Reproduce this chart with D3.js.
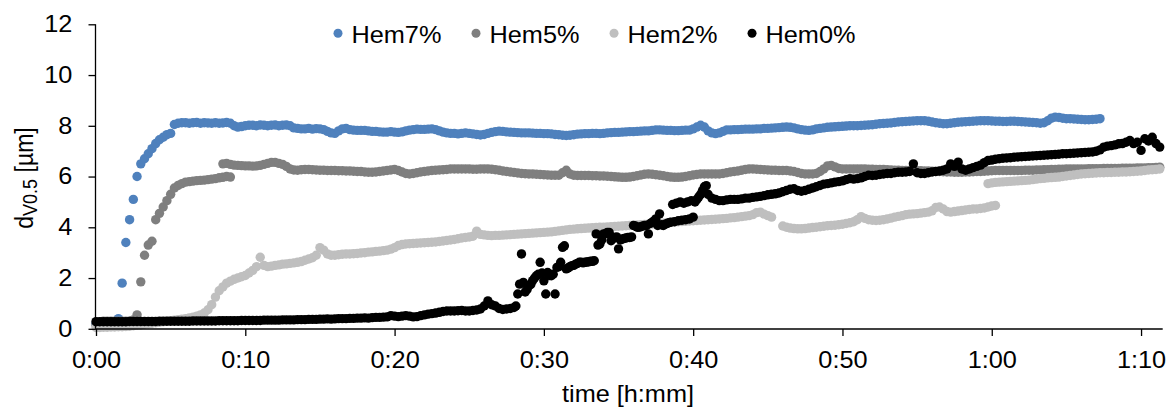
<!DOCTYPE html>
<html><head><meta charset="utf-8">
<script src="https://cdn.jsdelivr.net/npm/d3@7"></script>
<style>
body{margin:0;background:#fff}
svg{display:block}
text{font-family:"Liberation Sans",Arial,sans-serif;fill:#000}
</style>
</head><body><svg id="c" width="1171" height="413"></svg>
<script>
// ---- data (time in minutes, sampled every sampleStep minutes from each run start) ----
const seriesNames = ["Hem7%", "Hem5%", "Hem2%", "Hem0%"];
const seriesColors = ["#4F81BD", "#7F7F7F", "#BFBFBF", "#000000"];
const sampleStep = 0.25;
const yTicks = [0, 2, 4, 6, 8, 10, 12];
const xTicks = [0, 10, 20, 30, 40, 50, 60, 70];
const xMax = 71.45;

const hem7Starts = [0];
const hem7Values = [[
0.2,0.2,0.2,0.2, 0.2,0.2,0.4,1.8, 3.4,4.3,5.1,6.0, 6.5,6.7,6.9,7.1, 7.3,7.45,7.55,7.65,
7.7,8.05,8.1,8.12, 8.12,8.1,8.12,8.13, 8.1,8.12,8.11,8.1, 8.12,8.1,8.11,8.13, 8.1,8.0,7.95,7.97,
8.0,8.02,8.02,8.0, 8.03,8.02,8.0,8.02, 8.03,8.0,8.02,8.03, 8.0,7.92,7.9,7.88, 7.88,7.9,7.87,7.89,
7.88,7.85,7.78,7.72, 7.7,7.8,7.88,7.9, 7.85,7.83,7.82,7.82, 7.82,7.8,7.78,7.78, 7.76,7.75,7.75,7.77,
7.75,7.74,7.76,7.8, 7.83,7.85,7.87,7.86, 7.86,7.87,7.88,7.85, 7.8,7.75,7.72,7.7, 7.7,7.68,7.7,7.72,
7.7,7.68,7.66,7.64, 7.66,7.7,7.74,7.77, 7.79,7.78,7.76,7.75, 7.74,7.73,7.72,7.72, 7.72,7.71,7.7,7.7,
7.69,7.69,7.68,7.66, 7.65,7.63,7.62,7.63, 7.65,7.67,7.68,7.69, 7.69,7.7,7.7,7.69, 7.7,7.72,7.73,7.74,
7.74,7.75,7.76,7.77, 7.77,7.78,7.79,7.8, 7.8,7.82,7.84,7.84, 7.83,7.82,7.82,7.81, 7.81,7.82,7.83,7.83,
7.88,7.95,8.02,7.95, 7.8,7.72,7.69,7.72, 7.78,7.84,7.84,7.85, 7.85,7.86,7.87,7.87, 7.87,7.88,7.88,7.9,
7.9,7.91,7.92,7.93, 7.94,7.95,7.94,7.92, 7.88,7.85,7.83,7.82, 7.84,7.88,7.9,7.92, 7.94,7.95,7.96,7.97,
7.98,7.99,8.0,8.0, 8.0,8.01,8.02,8.03, 8.04,8.06,8.08,8.09, 8.1,8.11,8.13,8.15, 8.16,8.17,8.18,8.19,
8.2,8.2,8.2,8.18, 8.15,8.12,8.1,8.08, 8.08,8.1,8.12,8.14, 8.15,8.16,8.17,8.18, 8.19,8.2,8.2,8.2,
8.19,8.18,8.18,8.17, 8.17,8.18,8.18,8.17, 8.16,8.15,8.14,8.13, 8.12,8.1,8.12,8.2, 8.3,8.34,8.33,8.3,
8.28,8.28,8.27,8.26, 8.25,8.24,8.24,8.25, 8.26,8.28
]];

const hem5Starts = [0, 8.5];
const hem5Values = [[
0.15,0.25,0.3,0.3, 0.3,0.3,0.3,0.3, 0.3,0.3,0.35,0.55, 1.85,2.9,3.3,3.45, 4.3,4.55,4.8,5.05,
5.3,5.55,5.65,5.72, 5.78,5.8,5.82,5.84, 5.85,5.86,5.88,5.9, 5.92,5.95,5.97,6.0, 5.98
],[
6.5,6.52, 6.48,6.45,6.44,6.43, 6.42,6.42,6.41,6.42, 6.44,6.48,6.52,6.56, 6.56,6.52,6.48,6.4,
6.3,6.26,6.25,6.27, 6.28,6.28,6.27,6.26, 6.25,6.25,6.24,6.24, 6.24,6.23,6.23,6.22, 6.22,6.21,6.2,6.2,
6.18,6.17,6.17,6.18, 6.2,6.22,6.24,6.26, 6.28,6.24,6.18,6.12, 6.1,6.12,6.15,6.18, 6.2,6.22,6.24,6.25,
6.26,6.27,6.28,6.3, 6.3,6.3,6.3,6.3, 6.3,6.29,6.29,6.3, 6.3,6.3,6.29,6.27, 6.25,6.22,6.2,6.18,
6.16,6.14,6.12,6.11, 6.1,6.1,6.09,6.08, 6.07,6.06,6.05,6.05, 6.05,6.15,6.25,6.1, 6.05,6.04,6.04,6.04,
6.04,6.03,6.03,6.02, 6.02,6.01,6.0,5.99, 5.98,5.97,5.97,5.98, 6.0,6.03,6.06,6.09, 6.1,6.09,6.07,6.05,
6.03,6.0,5.98,5.97, 5.97,5.98,6.0,6.03, 6.06,6.08,6.1,6.1, 6.1,6.1,6.1,6.1, 6.12,6.15,6.18,6.2,
6.22,6.25,6.28,6.3, 6.3,6.29,6.28,6.27, 6.26,6.25,6.25,6.24, 6.24,6.24,6.22,6.2, 6.16,6.12,6.1,6.1,
6.1,6.12,6.2,6.3, 6.42,6.44,6.38,6.32, 6.3,6.3,6.3,6.3, 6.3,6.3,6.3,6.29, 6.29,6.28,6.28,6.28,
6.27,6.26,6.25,6.25, 6.24,6.24,6.24,6.24, 6.23,6.23,6.22,6.22, 6.21,6.2,6.2,6.19, 6.18,6.18,6.17,6.17,
6.17,6.18,6.18,6.19, 6.2,6.2,6.21,6.22, 6.23,6.24,6.24,6.24, 6.24,6.24,6.24,6.24, 6.24,6.25,6.25,6.25,
6.26,6.26,6.27,6.27, 6.28,6.28,6.29,6.29, 6.3,6.3,6.3,6.3, 6.3,6.3,6.31,6.31, 6.31,6.31,6.32,6.32,
6.32,6.32,6.32,6.33, 6.33,6.33,6.33,6.34, 6.34,6.34,6.35,6.35, 6.36,6.37
]];

const hem2Starts = [0, 46, 59.75];
const hem2Values = [[
0.05,0.05,0.06,0.06, 0.07,0.07,0.08,0.08, 0.09,0.1,0.12,0.15, 0.15,0.18,0.2,0.22, 0.24,0.26,0.28,0.3,
0.32,0.34,0.36,0.38, 0.4,0.43,0.46,0.5, 0.55,0.62,0.75,0.95, 1.25,1.5,1.65,1.8, 1.88,1.95,2.0,2.05,
2.1,2.2,2.3,2.45, 2.82,2.5,2.45,2.47, 2.5,2.52,2.55,2.56, 2.58,2.6,2.62,2.65, 2.7,2.75,2.8,2.9,
3.2,3.1,2.95,2.9, 2.9,2.92,2.94,2.95, 2.95,2.96,2.97,2.99, 3.0,3.02,3.03,3.05, 3.06,3.08,3.1,3.14,
3.2,3.28,3.32,3.34, 3.35,3.36,3.37,3.38, 3.39,3.4,3.41,3.42, 3.44,3.46,3.48,3.5, 3.52,3.55,3.58,3.6,
3.62,3.65,3.85,3.72, 3.7,3.68,3.67,3.68, 3.68,3.69,3.7,3.71, 3.72,3.73,3.74,3.75, 3.76,3.77,3.78,3.79,
3.8,3.81,3.82,3.84, 3.86,3.88,3.9,3.92, 3.93,3.94,3.95,3.96, 3.97,3.98,3.99,4.0, 4.0,4.01,4.02,4.03,
4.04,4.05,4.06,4.07, 4.08,4.09,4.1,4.11, 4.12,4.13,4.14,4.15, 4.16,4.18,4.2,4.21, 4.22,4.23,4.24,4.25,
4.26,4.27,4.28,4.29, 4.3,4.31,4.32,4.33, 4.34,4.35,4.37,4.38, 4.4,4.42,4.44,4.46, 4.5,4.58,4.6,4.52,
4.46,4.4
],[
4.05,4.0,3.97,3.95, 3.94,3.94,3.95,3.97, 3.99,4.0,4.02,4.04, 4.06,4.07,4.08,4.1, 4.12,4.15,4.18,4.22,
4.3,4.42,4.35,4.3, 4.28,4.27,4.28,4.3, 4.33,4.36,4.4,4.43, 4.46,4.5,4.52,4.53, 4.54,4.56,4.58,4.6,
4.65,4.78,4.8,4.72, 4.62,4.6,4.62,4.64, 4.66,4.68,4.7,4.72, 4.72,4.74,4.76,4.8, 4.84,4.86
],[
5.72, 5.75,5.77,5.78,5.79, 5.8,5.81,5.82,5.83, 5.84,5.85,5.86,5.88, 5.9,5.92,5.93,5.95,
5.96,5.97,5.98,6.0, 6.02,6.04,6.06,6.08, 6.1,6.11,6.12,6.13, 6.14,6.15,6.15,6.16, 6.16,6.17,6.17,6.18,
6.18,6.19,6.2,6.21, 6.22,6.24,6.26,6.27, 6.28,6.3
]];

const hem0Starts = [0, 28.125];
const hem0Values = [[
0.28,0.28,0.28,0.28, 0.28,0.28,0.28,0.28, 0.28,0.29,0.29,0.29, 0.29,0.29,0.29,0.29, 0.29,0.3,0.3,0.3,
0.3,0.3,0.3,0.3, 0.3,0.3,0.31,0.31, 0.31,0.31,0.31,0.31, 0.31,0.32,0.32,0.32, 0.32,0.32,0.32,0.33,
0.33,0.33,0.33,0.33, 0.33,0.34,0.34,0.34, 0.34,0.34,0.35,0.35, 0.35,0.35,0.36,0.36, 0.36,0.37,0.37,0.37,
0.38,0.38,0.39,0.38, 0.39,0.4,0.4,0.4, 0.41,0.41,0.42,0.42, 0.43,0.42,0.44,0.45, 0.45,0.46,0.47,0.52,
0.5,0.48,0.5,0.52, 0.5,0.47,0.48,0.52, 0.55,0.58,0.6,0.62, 0.65,0.68,0.7,0.7, 0.7,0.71,0.72,0.7,
0.7,0.72,0.74,0.78, 0.9,1.1,0.95,0.9, 0.8,0.76,0.78,0.8,
0.84,1.37,2.95,1.45, 1.7,1.9,2.09,2.62, 1.89,2.22,2.09,1.37, 2.45,3.21,2.36,2.45,
2.5,2.58,2.62,2.62, 2.64,2.66,3.74,3.34, 3.74,3.8,3.47,3.6, 3.15,3.54,3.58,3.6,
4.07,4.0,4.02,4.07, 3.74,4.2,4.33,4.53, 4.07,4.15,4.2,4.22, 4.26,4.28,4.3,4.33,
4.4,5.1,5.3,5.6, 5.3,5.15,5.1,5.05, 5.05,5.08,5.1,5.1, 5.1,5.12,5.15,5.15, 5.18,5.2,5.22,5.25,
5.28,5.3,5.32,5.35, 5.4,5.45,5.5,5.52, 5.45,5.42,5.45,5.5, 5.55,5.6,5.65,5.7, 5.72,5.75,5.78,5.8,
5.83,5.88,5.92,5.9, 5.92,5.95,6.0,6.05, 6.04,6.05,6.08,6.1, 6.12,6.12,6.15,6.17, 6.17,6.18,6.2,6.5,
6.15,6.12,6.12,6.15, 6.18,6.2,6.22,6.25, 6.3,6.5,6.4,6.57, 6.3,6.25,6.3,6.35, 6.4,6.45,6.55,6.63,
6.65,6.68,6.7,6.72, 6.73,6.74,6.76,6.77, 6.78,6.79,6.8,6.81, 6.82,6.83,6.84,6.85, 6.86,6.87,6.88,6.9,
6.9,6.91,6.92,6.93, 6.94,6.95,6.96,6.97, 7.0,7.05,7.16,7.2, 7.22,7.25,7.29,7.3, 7.35,7.42,7.3,7.35,
7.03,7.49,7.4,7.55, 7.3,7.16
],[
0.9,1.76,1.83,1.55, 1.75,2.0,2.15,2.2, 1.37,2.1,2.15,2.42, 2.62,3.27,2.4,2.49,
2.55,2.62,2.6,2.63, 2.66,2.68,3.3,3.5, 3.74,3.8,3.55,3.62, 3.5,3.56,3.6,3.62,
4.05,4.0,4.05,4.07, 4.15,4.25,4.07,4.1, 4.12,4.18,4.9,4.95, 5.0,4.95,5.0,5.05,
5.0,5.2,5.45,5.64
]];

const seriesStarts = [hem7Starts, hem5Starts, hem2Starts, hem0Starts];
const seriesValues = [hem7Values, hem5Values, hem2Values, hem0Values];

// ---- drawing ----
const FONT = 23, SX = 1.1;
const svg = d3.select("#c");
const x = d3.scaleLinear().domain([0, xMax]).range([96, 1162.7]);
const y = d3.scaleLinear().domain([0, 12]).range([328.8, 24.3]);
const fmt = m => Math.floor(m / 60) + ":" + String(m % 60).padStart(2, "0");

// points
seriesNames.forEach((name, si) => {
  const pts = [];
  seriesStarts[si].forEach((s, ri) => {
    seriesValues[si][ri].forEach((v, i) => pts.push({ t: s + i * sampleStep, v }));
  });
  svg.append("g").selectAll("circle").data(pts).join("circle")
    .attr("cx", d => x(d.t)).attr("cy", d => y(d.v)).attr("r", 4.7)
    .attr("fill", seriesColors[si]);
});

// axes
const yAxis = svg.append("g").attr("transform", "translate(95.5,0)")
  .call(d3.axisLeft(y).tickValues(yTicks).tickSize(7).tickSizeOuter(0).tickPadding(14).tickFormat(d3.format("d")));
const xAxis = svg.append("g").attr("transform", "translate(0,329)")
  .call(d3.axisBottom(x).tickValues(xTicks).tickSize(7).tickSizeOuter(0).tickPadding(15.5).tickFormat(fmt));
[yAxis, xAxis].forEach(g => {
  g.select(".domain").attr("stroke", "#000").attr("stroke-width", 1.3);
  g.selectAll(".tick line").attr("stroke", "#000").attr("stroke-width", 1.3);
  g.selectAll(".tick text").attr("font-size", FONT).attr("font-family", "Liberation Sans, Arial, sans-serif")
    .attr("fill", "#000").attr("transform", `scale(${SX},1)`);
});
yAxis.select(".domain").attr("d", `M0,${y(0)}V${y(12)}`);
xAxis.select(".domain").attr("d", `M${x(0) - 1},0H${x(xMax)}`);

// axis titles
svg.append("text").attr("transform", `translate(628,401.5) scale(${SX},1)`)
  .attr("text-anchor", "middle").attr("font-size", FONT).text("time [h:mm]");
const yt = svg.append("text").attr("transform", `translate(33,178) scale(${SX},1) rotate(-90)`)
  .attr("text-anchor", "middle").attr("font-size", FONT);
yt.append("tspan").text("d");
yt.append("tspan").attr("font-size", 18).attr("dy", 4).text("V0.5");
yt.append("tspan").attr("dy", -4).text(" [µm]");

// legend
let lx = 338;
seriesNames.forEach((name, i) => {
  const g = svg.append("g");
  g.append("circle").attr("cx", lx).attr("cy", 33.3).attr("r", 4.5).attr("fill", seriesColors[i]);
  const t = g.append("text").attr("transform", `translate(${lx + 13.5},43.3) scale(${SX},1)`)
    .attr("font-size", FONT).text(name);
  const w = t.node().getComputedTextLength() * SX;
  lx = lx + 13.5 + w + 34.6;
});
</script>
</body></html>
